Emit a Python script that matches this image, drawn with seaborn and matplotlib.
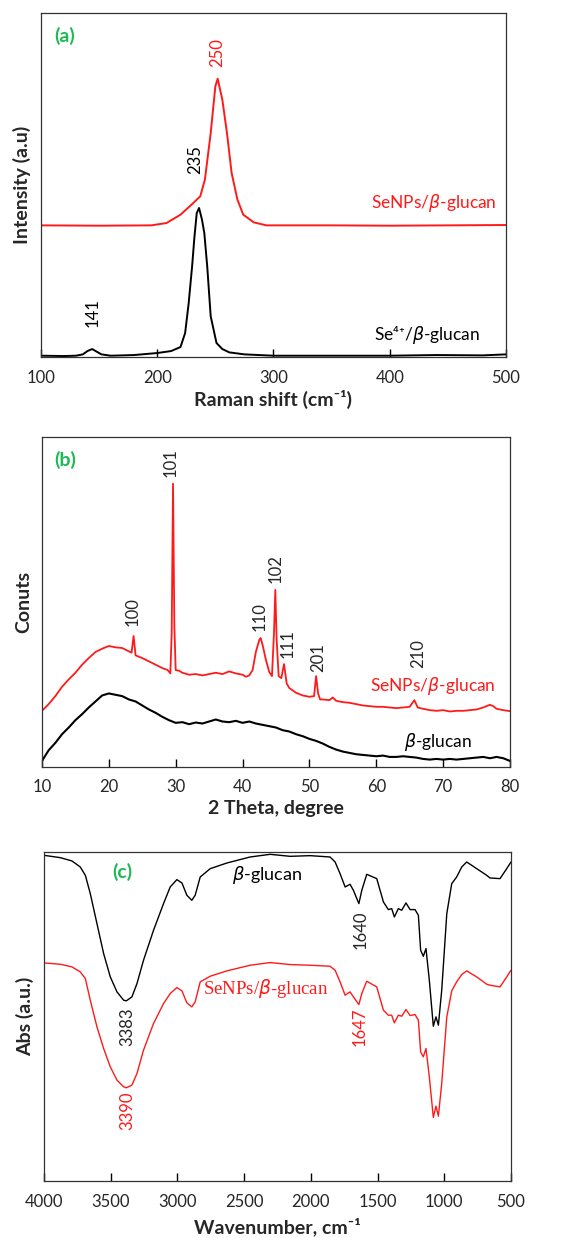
import matplotlib
matplotlib.use("Agg")
import matplotlib.pyplot as plt
import seaborn as sns
import pandas as pd

# ---- (a) Raman ----
raman_x_se4 = [100, 120, 130, 136, 140, 144, 148, 152, 160, 180, 200, 212, 220, 224, 227, 230, 232, 234,
               236, 238.5, 240.5, 243, 246, 251, 256, 262, 275, 300, 350, 400, 440, 480, 500]
raman_y_se4 = [4, 3, 4, 8, 18, 24, 16, 8, 4, 6, 12, 18, 30, 72, 160, 272, 360, 432,
               447, 412, 372, 272, 122, 42, 24, 14, 8, 4, 4, 4, 6, 5, 8]
raman_x_senp = [100, 150, 195, 208, 220, 231, 237, 241, 246, 250, 252, 256, 260, 264, 269, 274,
                283, 294, 350, 400, 450, 500]
raman_y_senp = [395, 394, 395, 402, 427, 462, 482, 532, 672, 812, 835, 772, 672, 552, 472, 427,
                404, 395, 395, 394, 395, 396]

# ---- (b) XRD ----
xrd_x_glucan = list(range(10, 81))
xrd_y_glucan = [18, 50, 72, 98, 118, 140, 158, 178, 196, 214, 220, 216, 212, 202, 196, 184, 172, 162,
                150, 140, 132, 134, 128, 133, 130, 136, 142, 136, 134, 138, 132, 136, 130, 126, 122,
                118, 110, 106, 98, 92, 84, 78, 70, 60, 52, 46, 42, 38, 36, 34, 32, 34, 30, 30, 32,
                30, 28, 24, 22, 24, 22, 24, 22, 24, 26, 28, 30, 26, 30, 26, 18]
xrd_x_senp = [10, 11, 12, 13, 14, 15, 16, 17, 18, 19, 20, 21, 22, 23, 23.4, 23.7, 24.0, 25, 26, 27, 28,
              28.8, 29.2, 29.4, 29.6, 29.8, 30.0, 30.5, 31, 32, 33, 34, 35, 36, 37, 38, 39, 40, 40.5,
              41, 41.5, 42, 42.5, 42.7, 43, 43.5, 44, 44.4, 44.7, 44.9, 45.1, 45.4, 45.8, 46.2, 46.6,
              47, 48, 49, 50, 50.7, 51.0, 51.3, 51.6, 52, 53, 53.5, 54, 55, 56, 57, 58, 59, 60, 61,
              62, 63, 64, 65, 65.7, 66.2, 67, 68, 69, 70, 71, 72, 73, 74, 75, 76, 77, 77.5, 78, 79, 80]
xrd_y_senp = [168, 188, 212, 240, 262, 282, 306, 326, 344, 354, 362, 358, 356, 346, 342, 392, 334, 326,
              316, 306, 296, 290, 280, 400, 848, 420, 290, 288, 282, 276, 278, 274, 278, 282, 278, 286,
              280, 276, 270, 274, 290, 345, 380, 386, 365, 320, 284, 272, 400, 530, 380, 272, 266, 308,
              250, 236, 222, 214, 210, 212, 272, 220, 202, 202, 200, 208, 198, 194, 192, 188, 184, 182,
              180, 180, 178, 176, 178, 180, 200, 178, 174, 170, 168, 170, 166, 168, 168, 170, 172, 178,
              186, 182, 174, 170, 167]
xrd_peaks = ["100", "101", "110", "102", "111", "201", "210"]
xrd_peak_x = [23.6, 29.2, 42.6, 44.9, 46.7, 51.3, 66.2]
xrd_peak_y = [465, 910, 450, 593, 368, 327, 340]

# ---- (c) FTIR ----
ftir_x = [4000, 3878, 3790, 3728, 3690, 3653, 3603, 3553, 3503, 3453, 3403, 3383, 3341, 3303, 3254,
          3179, 3104, 3054, 3004, 2966, 2929, 2892, 2867, 2829, 2754, 2629, 2455, 2305, 2155, 2005,
          1856, 1818, 1781, 1743, 1706, 1681, 1640, 1618, 1581, 1506, 1456, 1419, 1394, 1374, 1344,
          1319, 1287, 1256, 1219, 1194, 1177, 1157, 1137, 1112, 1082, 1062, 1044, 1019, 981, 944,
          907, 869, 832, 757, 682, 657, 582, 532, 500]
ftir_glucan = [978, 971, 961, 943, 918, 863, 773, 683, 613, 568, 543, 541, 553, 593, 663,
               753, 833, 883, 905, 895, 858, 843, 858, 913, 938, 955, 973, 981, 975, 977,
               973, 958, 923, 883, 891, 873, 833, 873, 921, 908, 838, 815, 818, 793, 818,
               813, 835, 815, 815, 798, 693, 675, 698, 603, 465, 493, 468, 573, 803, 893,
               913, 943, 958, 938, 918, 910, 908, 938, 958]
ftir_senp = [655, 651, 643, 628, 608, 543, 463, 398, 343, 303, 283, 280, 288, 323, 393,
             473, 533, 563, 581, 571, 535, 523, 538, 598, 615, 631, 648, 656, 650, 648,
             645, 633, 598, 558, 568, 553, 530, 563, 600, 583, 513, 498, 498, 475, 498,
             495, 515, 497, 500, 483, 388, 373, 398, 313, 191, 225, 195, 293, 493, 571,
             598, 620, 631, 613, 591, 588, 583, 613, 633]

sns.set_style("ticks")
plt.rcParams["font.family"] = ["Lato", "DejaVu Sans"]
plt.rcParams["axes.edgecolor"] = "#333333"

RED = "#ff1a1a"
GREEN = "#1db954"
fig = plt.figure(figsize=(5.88, 12.38), dpi=100)
ax_a = fig.add_axes([0.0697, 0.7116, 0.7908, 0.2779])
ax_b = fig.add_axes([0.0714, 0.3805, 0.7959, 0.2666])
ax_c = fig.add_axes([0.0748, 0.0460, 0.7942, 0.2658])


def line(ax, x, y, color, lw=1.3):
    df = pd.DataFrame({"x": x, "y": y})
    sns.lineplot(data=df, x="x", y="y", ax=ax, color=color, linewidth=lw, estimator=None)


def style(ax, xlabel, ylabel):
    ax.set_yticks([])
    ax.set_xlabel(xlabel, fontsize=14, fontweight="bold", labelpad=3)
    ax.set_ylabel(ylabel, fontsize=14, fontweight="bold", labelpad=7)
    ax.tick_params(axis="x", which="major", labelsize=12, direction="in", length=6, width=1.0,
                   pad=9, color="black", bottom=True)
    for s in ax.spines.values():
        s.set_linewidth(0.9)


# (a)
line(ax_a, raman_x_se4, raman_y_se4, "black", 1.4)
line(ax_a, raman_x_senp, raman_y_senp, RED, 1.4)
ax_a.set_xlim(100, 500)
ax_a.set_ylim(0, 1032)
ax_a.set_xticks([100, 200, 300, 400, 500])
style(ax_a, "Raman shift (cm⁻¹)", "Intensity (a.u)")
ax_a.text(252, 912, "250", color=RED, rotation=90, ha="center", va="center", fontsize=12)
ax_a.text(233, 592, "235", color="black", rotation=90, ha="center", va="center", fontsize=12)
ax_a.text(144, 132, "141", color="black", rotation=90, ha="center", va="center", fontsize=12)
ax_a.text(438, 462, r"SeNPs/$\beta$-glucan", color=RED, ha="center", va="center", fontsize=12.5)
ax_a.text(432, 67, r"Se⁴⁺/$\beta$-glucan", color="black", ha="center", va="center", fontsize=12.5)
ax_a.text(120, 962, "(a)", color=GREEN, ha="center", va="center", fontsize=14, fontweight="bold")

# (b)
line(ax_b, xrd_x_glucan, xrd_y_glucan, "black", 1.5)
line(ax_b, xrd_x_senp, xrd_y_senp, RED, 1.3)
ax_b.set_xlim(10, 80)
ax_b.set_ylim(0, 988)
ax_b.set_xticks(range(10, 81, 10))
style(ax_b, "2 Theta, degree", "Conuts")
for lab, px, py in zip(xrd_peaks, xrd_peak_x, xrd_peak_y):
    ax_b.text(px, py, lab, rotation=90, ha="center", va="center", fontsize=12)
ax_b.text(68.5, 243, r"SeNPs/$\beta$-glucan", color=RED, ha="center", va="center", fontsize=12.5)
ax_b.text(69.3, 75, r"$\beta$-glucan", color="black", ha="center", va="center", fontsize=12.5)
ax_b.text(13.4, 920, "(b)", color=GREEN, ha="center", va="center", fontsize=14, fontweight="bold")

# (c)
line(ax_c, ftir_x, ftir_glucan, "black", 1.0)
line(ax_c, ftir_x, ftir_senp, RED, 1.0)
ax_c.set_xlim(4000, 500)
ax_c.set_ylim(0, 988)
ax_c.set_xticks(range(4000, 499, -500))
style(ax_c, "Wavenumber, cm⁻¹", "Abs (a.u.)")
ax_c.xaxis.labelpad = 6
ax_c.text(3373, 463, "3383", rotation=90, ha="center", va="center", fontsize=12)
ax_c.text(1626, 755, "1640", rotation=90, ha="center", va="center", fontsize=12)
ax_c.text(3373, 210, "3390", color=RED, rotation=90, ha="center", va="center", fontsize=12)
ax_c.text(1631, 463, "1647", color=RED, rotation=90, ha="center", va="center", fontsize=12)
ax_c.text(2330, 920, r"$\beta$-glucan", color="black", ha="center", va="center", fontsize=13)
ax_c.text(2342, 578, r"SeNPs/$\beta$-glucan", color=RED, ha="center", va="center", fontsize=13.5,
          family=["Liberation Serif", "DejaVu Serif"])
ax_c.text(3416, 928, "(c)", color=GREEN, ha="center", va="center", fontsize=14, fontweight="bold")

fig.savefig("out.png", dpi=100)
